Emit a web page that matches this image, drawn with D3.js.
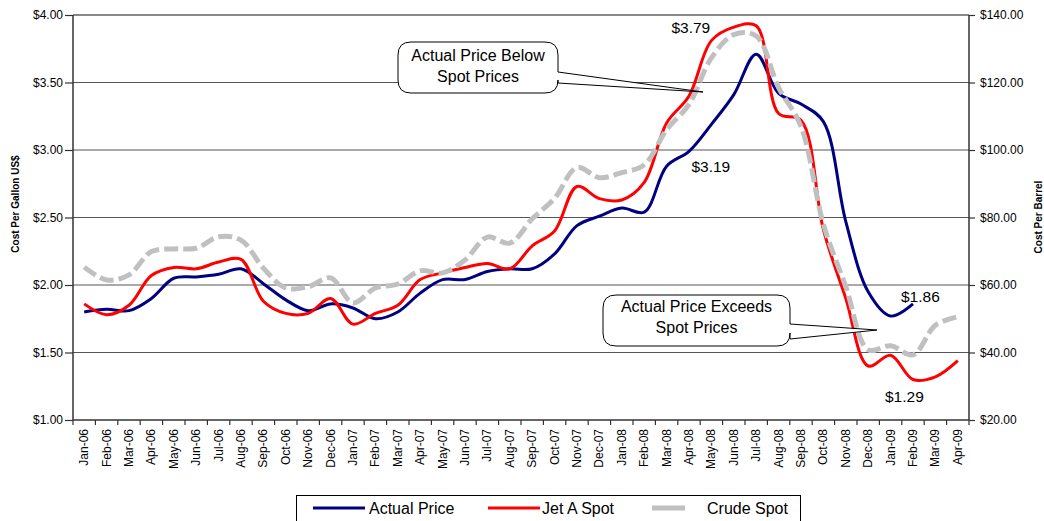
<!DOCTYPE html>
<html>
<head>
<meta charset="utf-8">
<script src="https://cdn.jsdelivr.net/npm/d3@7"></script>
<style>
  body { margin: 0; background: #fff; }
  svg { font-family: "Liberation Sans", Arial, sans-serif; }
</style>
</head>
<body>
<div id="chart"></div>
<script>
// month categories
var months = ["Jan-06","Feb-06","Mar-06","Apr-06","May-06","Jun-06","Jul-06","Aug-06","Sep-06","Oct-06","Nov-06","Dec-06",
  "Jan-07","Feb-07","Mar-07","Apr-07","May-07","Jun-07","Jul-07","Aug-07","Sep-07","Oct-07","Nov-07","Dec-07",
  "Jan-08","Feb-08","Mar-08","Apr-08","May-08","Jun-08","Jul-08","Aug-08","Sep-08","Oct-08","Nov-08","Dec-08",
  "Jan-09","Feb-09","Mar-09","Apr-09"];

// US$ per gallon
var actualPrice = [1.80,1.82,1.81,1.90,2.05,2.06,2.08,2.12,2.01,1.89,1.81,1.86,
  1.83,1.75,1.80,1.94,2.04,2.04,2.10,2.12,2.12,2.23,2.44,2.51,
  2.57,2.54,2.88,2.99,3.19,3.41,3.71,3.42,3.34,3.21,2.47,1.95,
  1.77,1.86,null,null];

var jetASpot = [1.86,1.78,1.85,2.07,2.13,2.12,2.17,2.19,1.88,1.79,1.79,1.90,
  1.71,1.79,1.85,2.04,2.09,2.13,2.16,2.12,2.29,2.40,2.73,2.64,
  2.63,2.76,3.20,3.40,3.81,3.91,3.92,3.27,3.22,2.41,1.90,1.40,
  1.48,1.30,1.32,1.44];

// US$ per barrel (right axis)
var crudeSpot = [65.3,61.5,63.0,69.9,70.7,70.9,74.3,73.3,65.0,59.1,59.5,62.1,
  54.7,59.1,60.3,64.2,63.6,67.4,74.2,72.4,79.6,85.7,94.8,91.8,
  93.3,95.6,106.0,113.5,127.3,134.2,133.8,118.5,107.0,78.0,59.5,40.8,
  42.0,39.3,48.1,50.6];

var leftTicks = [1.00,1.50,2.00,2.50,3.00,3.50,4.00];
var rightTicks = [20,40,60,80,100,120,140];

var width = 1044, height = 521;
var plot = {left: 73, right: 969, top: 15, bottom: 420};

var svg = d3.select("#chart").append("svg")
  .attr("width", width)
  .attr("height", height);

var x = d3.scaleBand().domain(months).range([plot.left, plot.right]).padding(0);
var yL = d3.scaleLinear().domain([1, 4]).range([plot.bottom, plot.top]);
var yR = d3.scaleLinear().domain([20, 140]).range([plot.bottom, plot.top]);
var xc = function(m) { return x(m) + x.bandwidth() / 2; };

// gridlines
svg.append("g").selectAll("line")
  .data(leftTicks.filter(function(d) { return d > 1; }))
  .enter().append("line")
  .attr("x1", plot.left).attr("x2", plot.right)
  .attr("y1", function(d) { return yL(d); })
  .attr("y2", function(d) { return yL(d); })
  .attr("stroke", function(d) { return d == 4 ? "#888" : "#555"; })
  .attr("stroke-width", function(d) { return d == 4 ? 2 : 1; });

// left axis
var axL = svg.append("g")
  .attr("transform", "translate(" + plot.left + ",0)")
  .call(d3.axisLeft(yL).tickValues(leftTicks).tickSize(8).tickPadding(2)
    .tickFormat(function(d) { return "$" + d.toFixed(2); }));
axL.select(".domain").remove();
axL.selectAll("line").attr("stroke", "#333").attr("stroke-width", 1.2);
axL.selectAll("text").attr("font-size", 12).attr("fill", "#000")
  .attr("font-family", "Liberation Sans, Arial, sans-serif");

// right axis
var axR = svg.append("g")
  .attr("transform", "translate(" + plot.right + ",0)")
  .call(d3.axisRight(yR).tickValues(rightTicks).tickSize(6).tickPadding(5)
    .tickFormat(function(d) { return "$" + d.toFixed(2); }));
axR.select(".domain").remove();
axR.selectAll("line").attr("stroke", "#333").attr("stroke-width", 1.2);
axR.selectAll("text").attr("font-size", 12).attr("fill", "#000")
  .attr("font-family", "Liberation Sans, Arial, sans-serif");

// x axis ticks between categories
var bounds = months.map(function(m) { return x(m); }).concat([plot.right]);
svg.append("g").selectAll("line")
  .data(bounds)
  .enter().append("line")
  .attr("x1", function(d) { return d; }).attr("x2", function(d) { return d; })
  .attr("y1", plot.bottom).attr("y2", plot.bottom + 5)
  .attr("stroke", "#333").attr("stroke-width", 1.2);

svg.append("g").selectAll("text")
  .data(months)
  .enter().append("text")
  .attr("transform", function(d) { return "translate(" + (xc(d) + 4) + "," + (plot.bottom + 9) + ") rotate(-90)"; })
  .attr("text-anchor", "end")
  .attr("font-size", 12)
  .text(function(d) { return d; });

// axis lines
svg.append("line").attr("x1", plot.left).attr("x2", plot.left)
  .attr("y1", plot.top).attr("y2", plot.bottom)
  .attr("stroke", "#333").attr("stroke-width", 1.5);
svg.append("line").attr("x1", plot.right).attr("x2", plot.right)
  .attr("y1", plot.top).attr("y2", plot.bottom)
  .attr("stroke", "#333").attr("stroke-width", 1.5);
svg.append("line").attr("x1", plot.left).attr("x2", plot.right)
  .attr("y1", plot.bottom).attr("y2", plot.bottom)
  .attr("stroke", "#333").attr("stroke-width", 1.5);

// axis titles
svg.append("text")
  .attr("transform", "translate(19,204) rotate(-90)")
  .attr("text-anchor", "middle")
  .attr("font-size", 10).attr("font-weight", "bold")
  .text("Cost Per Gallon US$");
svg.append("text")
  .attr("transform", "translate(1042,217) rotate(-90)")
  .attr("text-anchor", "middle")
  .attr("font-size", 10).attr("font-weight", "bold")
  .text("Cost Per Barrel");

// series
var curve = d3.curveCatmullRom.alpha(0.5);
var lineL = d3.line()
  .defined(function(d) { return d.v != null; })
  .x(function(d) { return xc(d.m); })
  .y(function(d) { return yL(d.v); })
  .curve(curve);
var lineR = d3.line()
  .x(function(d) { return xc(d.m); })
  .y(function(d) { return yR(d.v); })
  .curve(curve);

function pairs(vals) {
  return months.map(function(m, i) { return {m: m, v: vals[i]}; });
}

svg.append("path").datum(pairs(actualPrice))
  .attr("d", lineL).attr("fill", "none")
  .attr("stroke", "#000080").attr("stroke-width", 3);
svg.append("path").datum(pairs(jetASpot))
  .attr("d", lineL).attr("fill", "none")
  .attr("stroke", "#ff0000").attr("stroke-width", 3);
svg.append("path").datum(pairs(crudeSpot))
  .attr("d", lineR).attr("fill", "none")
  .attr("stroke", "#c0c0c0").attr("stroke-width", 5)
  .attr("stroke-dasharray", "14,5");

// value labels
var labels = [
  {t: "$3.79", x: xc("May-08") - 40, y: 33},
  {t: "$3.19", x: xc("May-08") - 20, y: 172},
  {t: "$1.86", x: xc("Feb-09") - 12, y: 302},
  {t: "$1.29", x: xc("Feb-09") - 28, y: 402}
];
svg.append("g").selectAll("text")
  .data(labels)
  .enter().append("text")
  .attr("x", function(d) { return d.x; })
  .attr("y", function(d) { return d.y; })
  .attr("font-size", 15.5)
  .text(function(d) { return d.t; });

// callouts
function callout(b) {
  var r = 13, x0 = b.x0, x1 = b.x1, y0 = b.y0, y1 = b.y1;
  var p = d3.path();
  p.moveTo(x0 + r, y0);
  p.lineTo(x1 - r, y0);
  p.quadraticCurveTo(x1, y0, x1, y0 + r);
  p.lineTo(x1, b.w1);
  p.lineTo(b.tx, b.ty);
  p.lineTo(x1, b.w2);
  p.lineTo(x1, y1 - r);
  p.quadraticCurveTo(x1, y1, x1 - r, y1);
  p.lineTo(x0 + r, y1);
  p.quadraticCurveTo(x0, y1, x0, y1 - r);
  p.lineTo(x0, y0 + r);
  p.quadraticCurveTo(x0, y0, x0 + r, y0);
  p.closePath();
  var g = svg.append("g");
  g.append("path").attr("d", p.toString())
    .attr("fill", "#fff").attr("stroke", "#000").attr("stroke-width", 1);
  g.selectAll("text").data(b.lines).enter().append("text")
    .attr("x", (x0 + x1) / 2)
    .attr("y", function(d, i) { return b.base + i * 21; })
    .attr("text-anchor", "middle")
    .attr("font-size", 16)
    .text(function(d) { return d; });
}

callout({x0: 398, x1: 558, y0: 42, y1: 93, w1: 72, w2: 83, tx: 703, ty: 92,
  base: 61, lines: ["Actual Price Below", "Spot Prices"]});
callout({x0: 603, x1: 790, y0: 295, y1: 346, w1: 324, w2: 339, tx: 877, ty: 330,
  base: 312, lines: ["Actual Price Exceeds", "Spot Prices"]});

// legend
var legend = svg.append("g");
legend.append("rect")
  .attr("x", 296.5).attr("y", 495.5).attr("width", 504).attr("height", 40)
  .attr("fill", "#fff").attr("stroke", "#000").attr("stroke-width", 1);
var legItems = [
  {name: "Actual Price", color: "#000080", w: 3, x1: 313, x2: 365, tx: 369},
  {name: "Jet A Spot", color: "#ff0000", w: 3, x1: 488, x2: 540, tx: 542},
  {name: "Crude Spot", color: "#c0c0c0", w: 5, x1: 652, x2: 685, tx: 707}
];
legItems.forEach(function(d) {
  legend.append("line")
    .attr("x1", d.x1).attr("x2", d.x2).attr("y1", 508).attr("y2", 508)
    .attr("stroke", d.color).attr("stroke-width", d.w);
  legend.append("text")
    .attr("x", d.tx).attr("y", 514)
    .attr("font-size", 16)
    .text(d.name);
});
</script>
</body>
</html>
